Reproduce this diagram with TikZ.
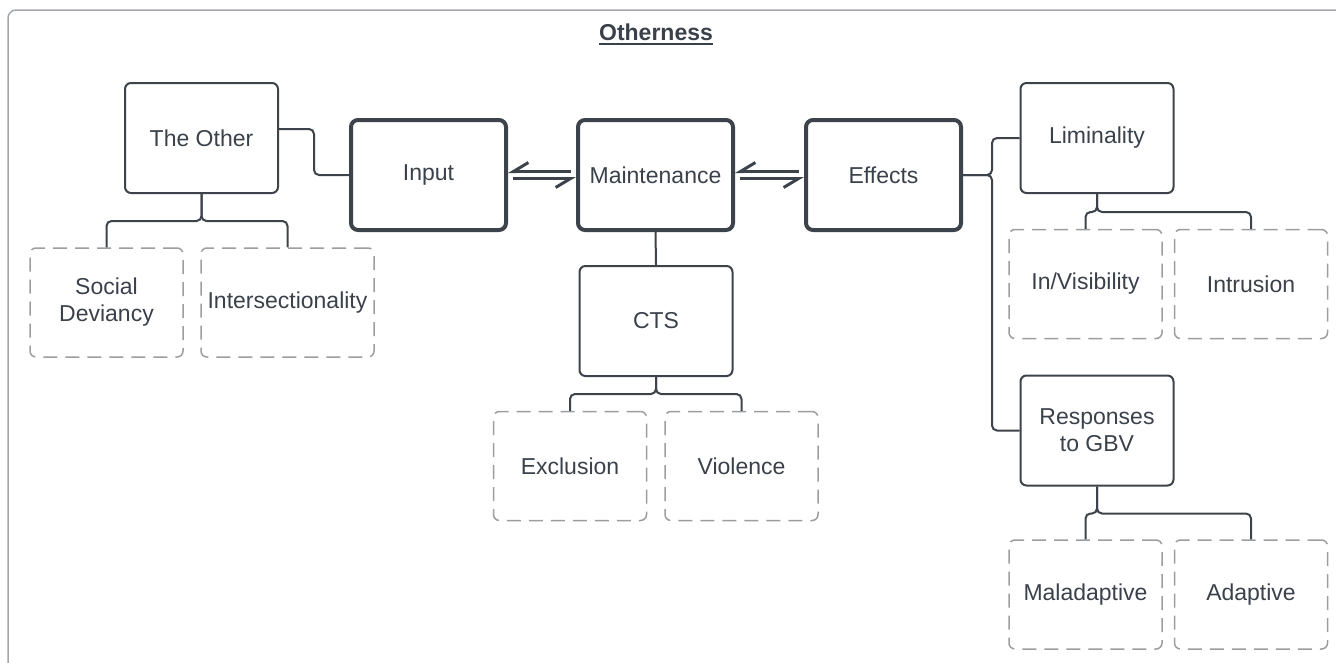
\documentclass[tikz,border=0pt]{standalone}
\usepackage{fontspec}
\setmainfont{Liberation Sans}
\usetikzlibrary{arrows.meta}
\definecolor{txt}{HTML}{3A414A}
\definecolor{linec}{HTML}{3D434B}
\definecolor{dashc}{HTML}{9B9DA0}
\definecolor{framec}{HTML}{A3A6AA}
\newcommand\myul[1]{\setbox0\hbox{#1}\rlap{\rule[-4.5pt]{\wd0}{2pt}}\box0}
\begin{document}
\begin{tikzpicture}[x=1pt,y=-1pt,
  every node/.style={font=\fontsize{23}{27}\selectfont, text=txt},
  box/.style={draw=linec, line width=2pt, rounded corners=6pt, minimum width=153pt, minimum height=110pt, align=center, inner sep=0pt},
  boldbox/.style={box, line width=4pt, rounded corners=7pt, minimum width=155pt},
  dbox/.style={box, draw=dashc, line width=1.5pt, dash pattern=on 14pt off 8pt, minimum height=109pt},
  conn/.style={draw=linec, line width=2pt, rounded corners=5pt},
  harp/.style={draw=linec, line width=3pt, shorten <=5pt, -{Straight Barb[harpoon,swap,length=15pt,width=18pt,line width=3pt]}},
  ]
\useasboundingbox (0,0) rectangle (1336,662);
\begin{scope}
\clip (0,0) rectangle (1336,662);
\draw[framec, line width=1.5pt, rounded corners=8pt] (8,10) rectangle (1360,690);
\end{scope}

\node[font=\fontsize{23}{27}\selectfont\bfseries] (ttl) at (656,34) {\myul{Otherness}};

\node[box] (oth) at (201.5,138) {The Other};
\node[boldbox] (inp) at (428.5,175) {Input};
\node[boldbox] (mnt) at (655.5,175) {Maintenance};
\node[boldbox] (eff) at (883.5,175) {Effects};
\node[box] (lim) at (1097,138) {Liminality};
\node[box] (cts) at (656,321) {CTS};
\node[box] (rsp) at (1097,430.5) {Responses\\to GBV};

\node[dbox] (sd) at (106.5,302.5) {Social\\Deviancy};
\node[dbox, minimum width=173pt] (is) at (287.5,302.5) {Intersectionality};
\node[dbox] (exc) at (570,466) {Exclusion};
\node[dbox] (vio) at (741.5,466) {Violence};
\node[dbox] (inv) at (1085.5,284) {In/Visibility};
\node[dbox] (int) at (1251,284) {Intrusion};
\node[dbox] (mal) at (1085.5,594.5) {Maladaptive};
\node[dbox] (ada) at (1251,594.5) {Adaptive};

% connectors
\draw[conn] ([yshift=9pt]oth.east) -- ++(35,0) |- (inp.west);
\draw[conn] (oth.south) -- ++(0,27) -| (sd.north);
\draw[conn] (oth.south) -- ++(0,27) -| (is.north);
\draw[conn] (mnt.south) -- (cts.north);
\draw[conn] (cts.south) -- ++(0,17) -| (exc.north);
\draw[conn] (cts.south) -- ++(0,17) -| (vio.north);
\draw[conn] (eff.east) -- ++(29,0) |- (lim.west);
\draw[conn] (eff.east) -- ++(29,0) |- (rsp.west);
\draw[conn] (lim.south) -- ++(0,18) -| (inv.north);
\draw[conn] (lim.south) -- ++(0,18) -| (int.north);
\draw[conn] (rsp.south) -- ++(0,27) -| (mal.north);
\draw[conn] (rsp.south) -- ++(0,27) -| (ada.north);

% harpoons
\draw[harp] ([yshift=3.5pt]mnt.west) -- ([yshift=3.5pt]inp.east);
\draw[harp] ([yshift=-3.5pt]inp.east) -- ([yshift=-3.5pt]mnt.west);
\draw[harp] ([yshift=3.5pt]eff.west) -- ([yshift=3.5pt]mnt.east);
\draw[harp] ([yshift=-3.5pt]mnt.east) -- ([yshift=-3.5pt]eff.west);
\end{tikzpicture}
\end{document}
